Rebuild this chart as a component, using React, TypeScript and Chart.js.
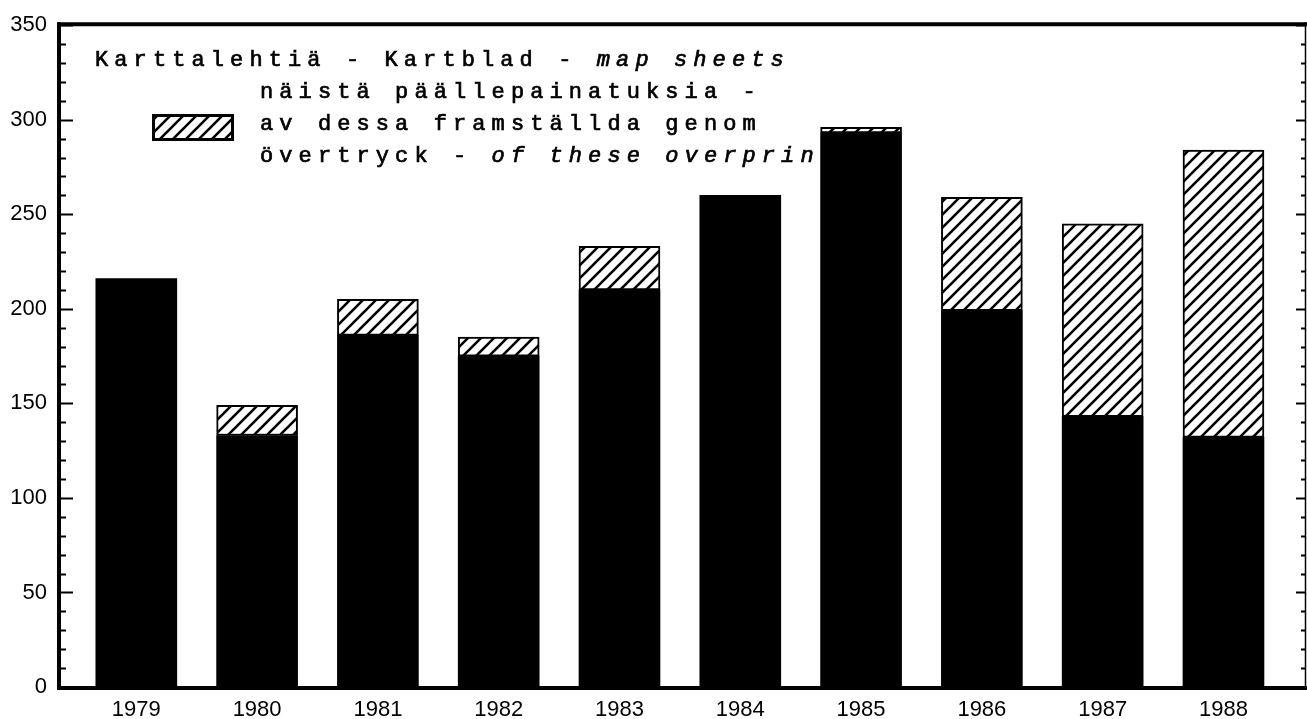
import { useEffect, useRef } from "react";
import { Chart, registerables } from "chart.js";

Chart.register(...registerables);

const years = [1979, 1980, 1981, 1982, 1983, 1984, 1985, 1986, 1987, 1988];
const mapSheets = [216, 133, 186, 175, 210, 260, 293, 199, 143, 132];
const overprints = [0, 16, 19, 10, 23, 0, 3, 60, 102, 152];
const yTicks = [0, 50, 100, 150, 200, 250, 300, 350];

const legendLine1 = ["Karttalehtiä - Kartblad - ", "map sheets"];
const legendLine2 = ["näistä päällepainatuksia -", ""];
const legendLine3 = ["av dessa framställda genom", ""];
const legendLine4 = ["övertryck - ", "of these overprints"];

function makePattern(): CanvasPattern | string {
  const s = 13;
  const c = document.createElement("canvas");
  c.width = s;
  c.height = s;
  const g = c.getContext("2d");
  if (!g) return "#fff";
  g.fillStyle = "#fff";
  g.fillRect(0, 0, s, s);
  g.strokeStyle = "#000";
  g.lineWidth = 2.6;
  g.beginPath();
  g.moveTo(-2, s + 2);
  g.lineTo(s + 2, -2);
  g.moveTo(-3, 3);
  g.lineTo(3, -3);
  g.moveTo(s - 3, s + 3);
  g.lineTo(s + 3, s - 3);
  g.stroke();
  const p = g.createPattern(c, "repeat");
  return p || "#fff";
}

export default function App() {
  const ref = useRef<HTMLCanvasElement>(null);

  useEffect(() => {
    const canvas = ref.current;
    if (!canvas) return;
    const pat = makePattern();

    const legendText = {
      id: "legendText",
      beforeDatasetsDraw(chart: any) {
        const ctx = chart.ctx as CanvasRenderingContext2D;
        ctx.save();
        ctx.fillStyle = "#000";
        ctx.strokeStyle = "#000";
        ctx.lineWidth = 0.7;
        ctx.textBaseline = "alphabetic";
        ctx.textAlign = "left";
        const adv = 19.3;
        const lines = [
          { x: 95, y: 66, parts: legendLine1 },
          { x: 260, y: 98, parts: legendLine2 },
          { x: 260, y: 130, parts: legendLine3 },
          { x: 260, y: 162, parts: legendLine4 },
        ];
        for (const ln of lines) {
          let i = 0;
          ln.parts.forEach((part, pi) => {
            ctx.font = (pi === 1 ? "italic " : "") + "22px 'Liberation Mono', 'DejaVu Sans Mono', monospace";
            for (const ch of Array.from(part)) {
              ctx.fillText(ch, ln.x + i * adv, ln.y);
              ctx.strokeText(ch, ln.x + i * adv, ln.y);
              i++;
            }
          });
        }
        // legend swatch
        const bx = 152, by = 114, bw = 82, bh = 27;
        ctx.fillStyle = pat as any;
        ctx.fillRect(bx, by, bw, bh);
        ctx.lineWidth = 3;
        ctx.strokeRect(bx + 1.5, by + 1.5, bw - 3, bh - 3);
        ctx.restore();
      },
    };

    const frame = {
      id: "frame",
      afterDraw(chart: any) {
        const ctx = chart.ctx as CanvasRenderingContext2D;
        const a = chart.chartArea;
        const y = chart.scales.y;
        ctx.save();
        ctx.strokeStyle = "#000";
        ctx.lineCap = "butt";
        ctx.lineWidth = 4;
        ctx.beginPath();
        ctx.moveTo(a.left - 2, a.top - 1);
        ctx.lineTo(1307, a.top - 1);
        ctx.stroke();
        ctx.beginPath();
        ctx.moveTo(a.left - 2, a.bottom + 1);
        ctx.lineTo(1307, a.bottom + 1);
        ctx.stroke();
        ctx.beginPath();
        ctx.moveTo(a.left, a.top - 3);
        ctx.lineTo(a.left, a.bottom + 3);
        ctx.stroke();
        ctx.lineWidth = 1.5;
        ctx.beginPath();
        ctx.moveTo(1305.5, a.top - 3);
        ctx.lineTo(1305.5, a.bottom + 3);
        ctx.stroke();
        ctx.lineWidth = 2;
        for (let v = 0; v <= 350; v += 10) {
          const py = Math.round(y.getPixelForValue(v)) + 0.5;
          const major = v % 50 === 0;
          ctx.beginPath();
          ctx.moveTo(a.left, py);
          ctx.lineTo(a.left + (major ? 14 : 7), py);
          ctx.moveTo(1306, py);
          ctx.lineTo(1306 - (major ? 10 : 5), py);
          ctx.stroke();
        }
        ctx.restore();
      },
    };

    const tickFont = { family: "'Liberation Sans', Arial, sans-serif", size: 22 };

    const chart = new Chart(canvas, {
      type: "bar",
      data: {
        datasets: [
          {
            label: "map sheets",
            data: years.map((yr, i) => ({ x: yr, y: mapSheets[i] })),
            backgroundColor: "#000",
            borderWidth: 0,
            barThickness: 81,
          },
          {
            label: "overprints",
            data: years.map((yr, i) => ({ x: yr, y: overprints[i] > 0 ? overprints[i] : null })),
            backgroundColor: pat as any,
            borderColor: "#000",
            borderWidth: 2,
            borderSkipped: false,
            barThickness: 81,
          },
        ],
      },
      options: {
        animation: false,
        responsive: false,
        devicePixelRatio: 1,
        layout: { padding: { top: 16, right: 2, left: 0, bottom: 0 } },
        plugins: {
          legend: { display: false },
          tooltip: { enabled: false },
        },
        scales: {
          x: {
            type: "linear",
            stacked: true,
            offset: false,
            min: 1978.36,
            max: 1988.675,
            grid: { display: false, drawTicks: false, offset: false },
            border: { display: false },
            afterBuildTicks: (s: any) => {
              s.ticks = years.map((v) => ({ value: v }));
            },
            afterFit: (s: any) => {
              s.height = 32;
            },
            ticks: {
              autoSkip: false,
              maxRotation: 0,
              padding: 10,
              color: "#000",
              font: tickFont,
              callback: (v: any) => String(v),
            },
          },
          y: {
            stacked: true,
            min: 0,
            max: 350,
            grid: { display: false, drawTicks: false },
            border: { display: false },
            afterBuildTicks: (s: any) => {
              s.ticks = yTicks.map((v) => ({ value: v }));
            },
            afterFit: (s: any) => {
              s.width = 59;
            },
            ticks: {
              padding: 12,
              color: "#000",
              font: tickFont,
              callback: (v: any) => String(v),
            },
          },
        },
      } as any,
      plugins: [legendText, frame],
    });

    return () => chart.destroy();
  }, []);

  return (
    <div style={{ position: "absolute", left: 0, top: 0, width: 1307, height: 719, background: "#fff" }}>
      <canvas ref={ref} width={1307} height={719} style={{ display: "block", width: 1307, height: 719 }} />
    </div>
  );
}
